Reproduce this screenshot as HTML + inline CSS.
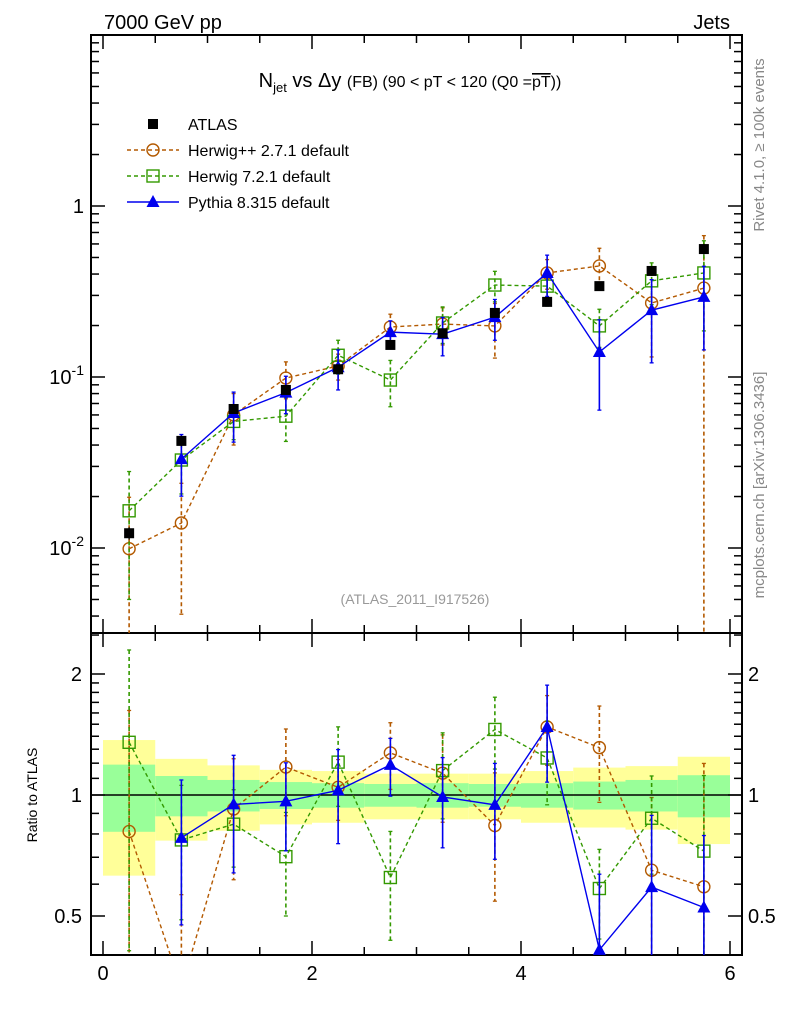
<!DOCTYPE html>
<html><head><meta charset="utf-8">
<style>
html,body{margin:0;padding:0;background:#fff;width:786px;height:1024px;overflow:hidden;}
svg{display:block;font-family:"Liberation Sans",Arial,sans-serif;}
</style></head>
<body>
<svg id="chart" width="786" height="1024" viewBox="0 0 786 1024" xmlns="http://www.w3.org/2000/svg">
<text x="104" y="29" font-size="20">7000 GeV pp</text>
<text x="730" y="29" font-size="20" text-anchor="end">Jets</text>
<text x="410" y="87" font-size="20" text-anchor="middle">N<tspan font-size="13" dy="5">jet</tspan><tspan dy="-5"> vs Δy </tspan><tspan font-size="16">(FB) (90 &lt; pT &lt; 120 (Q0 =</tspan><tspan font-size="16" text-decoration="overline">pT</tspan><tspan font-size="16">))</tspan></text>
<text x="415" y="604" font-size="14" fill="#999" text-anchor="middle">(ATLAS_2011_I917526)</text>
<text transform="translate(764,145) rotate(-90)" font-size="15" fill="#888" text-anchor="middle">Rivet 4.1.0, ≥ 100k events</text>
<text transform="translate(764,485) rotate(-90)" font-size="15" fill="#888" text-anchor="middle">mcplots.cern.ch [arXiv:1306.3436]</text>
<text transform="translate(37,795) rotate(-90)" font-size="14" text-anchor="middle">Ratio to ATLAS</text>
<g id="legend"></g>
<g id="plots"></g>
</svg>
<script>
const xCenters = [0.25,0.75,1.25,1.75,2.25,2.75,3.25,3.75,4.25,4.75,5.25,5.75];
const atlasVals = [0.0122,0.0423,0.065,0.084,0.111,0.154,0.18,0.237,0.275,0.34,0.417,0.56];
const atlasErr = [0.001,0.003,0.004,0.005,0.006,0.008,0.01,0.012,0.015,0.02,0.025,0.04];
const herwigppVals = [0.0099,0.014,0.06,0.0986,0.116,0.196,0.204,0.199,0.406,0.446,0.271,0.331];
const herwigppErr = [0.0099,0.0099,0.02,0.024,0.02,0.037,0.05,0.07,0.08,0.12,0.14,0.34];
const herwig7Vals = [0.0165,0.0327,0.055,0.059,0.134,0.096,0.207,0.345,0.34,0.199,0.365,0.406];
const herwig7Err = [0.0115,0.012,0.012,0.017,0.03,0.029,0.05,0.07,0.08,0.05,0.1,0.22];
const pythiaVals = [null,0.0331,0.0616,0.081,0.114,0.183,0.178,0.224,0.406,0.14,0.246,0.294];
const pythiaErr = [0.013,0.013,0.02,0.02,0.03,0.03,0.045,0.06,0.11,0.076,0.125,0.15];
const bandYellow = [0.37,0.23,0.185,0.155,0.147,0.13,0.13,0.13,0.147,0.17,0.18,0.245];
const bandGreen = [0.19,0.115,0.09,0.077,0.07,0.065,0.07,0.065,0.07,0.08,0.09,0.12];
const xTickLabels = ["0","2","4","6"];
const yMainLabels = [["1",0],["10","-1"],["10","-2"]];
const yRatioLabels = ["2","1","0.5"];

const NS="http://www.w3.org/2000/svg";
const L=91,R=742,T=35,MB=633,RB=955;
const X=v=>103+(730-103)*v/6;
const YM=v=>206-171*Math.log10(v);
const YR=r=>795-121*Math.log2(r);
const plots=document.getElementById('plots');
function mk(tag,attrs,parent){const e=document.createElementNS(NS,tag);for(const k in attrs)e.setAttribute(k,attrs[k]);(parent||plots).appendChild(e);return e;}
function clipRect(id,y0,y1){const d=mk('clipPath',{id:id});mk('rect',{x:L,y:y0,width:R-L,height:y1-y0},d);}
clipRect('cm',T,MB);clipRect('cr',MB,RB);

const gb=mk('g',{'clip-path':'url(#cr)'});


for(let i=0;i<xCenters.length;i++){
  const x0=X(xCenters[i]-0.25),x1=X(xCenters[i]+0.25);
  const y=mk('rect',{x:x0,y:YR(1+bandYellow[i]),width:x1-x0,height:YR(1-bandYellow[i])-YR(1+bandYellow[i]),fill:'#ffff99'},gb);
  
  
  const g=mk('rect',{x:x0,y:YR(1+bandGreen[i]),width:x1-x0,height:YR(1-bandGreen[i])-YR(1+bandGreen[i]),fill:'#99ff99'},gb);
  
  
}
const one=mk('line',{x1:L,x2:R,y1:YR(1),y2:YR(1),stroke:'#000','stroke-width':1.5});



for(const [y0,y1,n] of [[T,MB,'main-frame'],[MB,RB,'ratio-frame']]){
  const f=mk('rect',{x:L,y:y0,width:R-L,height:y1-y0,fill:'none',stroke:'#000','stroke-width':2});
  
  
}
for(let k=0;k<=12;k++){
  const v=k*0.5,x=X(v),len=(k%4==0)?14:8;
  for(const [yb,yt] of [[MB,T],[RB,MB]]){
    mk('line',{x1:x,x2:x,y1:yb,y2:yb-len,stroke:'#000','stroke-width':1.5});
    mk('line',{x1:x,x2:x,y1:yt,y2:yt+len,stroke:'#000','stroke-width':1.5});
  }
}
xTickLabels.forEach((t,i)=>{const e=mk('text',{x:X(i*2),y:980,'font-size':20,'text-anchor':'middle'});e.textContent=t;
 
 });
for(let d=-3;d<=0;d++){for(let m=1;m<10;m++){const v=m*Math.pow(10,d),y=YM(v);if(y<T||y>MB)continue;const len=m==1?14:8;
 mk('line',{x1:L,x2:L+len,y1:y,y2:y,stroke:'#000','stroke-width':1.5});mk('line',{x1:R,x2:R-len,y1:y,y2:y,stroke:'#000','stroke-width':1.5});}}
yMainLabels.forEach((p,i)=>{const y=YM(Math.pow(10,-i));const e=mk('text',{x:84,y:y+7,'font-size':20,'text-anchor':'end'});
 if(i==0)e.textContent='1';else{e.textContent='10';const s=mk('tspan',{'font-size':14,dy:-9},e);s.textContent=p[1];}
 
 });
const rt=[0.4,0.5,0.6,0.7,0.8,0.9,1,1.1,1.2,1.3,1.4,1.5,1.6,1.7,1.8,1.9,2,2.5];
rt.forEach(v=>{const y=YR(v);if(y<MB||y>RB)return;const len=(v==0.5||v==1||v==2)?14:8;
 mk('line',{x1:L,x2:L+len,y1:y,y2:y,stroke:'#000','stroke-width':1.5});mk('line',{x1:R,x2:R-len,y1:y,y2:y,stroke:'#000','stroke-width':1.5});});
[2,1,0.5].forEach((v,i)=>{for(const [x,a] of [[82,'end'],[748,'start']]){const e=mk('text',{x:x,y:YR(v)+7,'font-size':20,'text-anchor':a});e.textContent=yRatioLabels[i];
 
 }});

function marker(g,type,x,y,col){
  if(type=='sq')mk('rect',{x:x-5,y:y-5,width:10,height:10,fill:'#000'},g);
  else if(type=='circ')mk('circle',{cx:x,cy:y,r:6,fill:'none',stroke:col,'stroke-width':1.4},g);
  else if(type=='osq')mk('rect',{x:x-6,y:y-6,width:12,height:12,fill:'none',stroke:col,'stroke-width':1.4},g);
  else if(type=='tri')mk('polygon',{points:`${x},${y-7} ${x-6.5},${y+5} ${x+6.5},${y+5}`,fill:col},g);
}
function series(name,vals,errs,col,dash,type,line,panel){
  const ratio=panel=='ratio';
  const Y=ratio?YR:YM;
  const g=mk('g',{'clip-path':ratio?'url(#cr)':'url(#cm)'});
  
  
  const pts=[];
  for(let i=0;i<xCenters.length;i++){
    if(vals[i]==null)continue;
    let v=vals[i],e=errs[i];
    if(ratio){v=vals[i]/atlasVals[i];e=errs[i]/atlasVals[i];}
    const x=X(xCenters[i]);
    const lo=Math.max(v-e,1e-6);
    mk('line',{x1:x,x2:x,y1:Y(v+e),y2:Y(lo),stroke:col,'stroke-width':line?1.6:1.3,'stroke-dasharray':dash||''},g);
    if(type!='sq'){mk('line',{x1:x-2,x2:x+2,y1:Y(v+e),y2:Y(v+e),stroke:col,'stroke-width':1.3},g);mk('line',{x1:x-2,x2:x+2,y1:Y(lo),y2:Y(lo),stroke:col,'stroke-width':1.3},g);}
    pts.push([x,Y(v)]);
  }
  if(line)mk('polyline',{points:pts.map(p=>p.join(',')).join(' '),fill:'none',stroke:col,'stroke-width':1.4,'stroke-dasharray':dash||''},g);
  pts.forEach(p=>marker(g,type,p[0],p[1],col));
}
series('herwigpp',herwigppVals,herwigppErr,'#b35900','4,3','circ',true,'main');
series('herwig7',herwig7Vals,herwig7Err,'#339900','4,3','osq',true,'main');
series('pythia',pythiaVals,pythiaErr,'#0000ee','','tri',true,'main');
series('atlas',atlasVals,atlasErr,'#000','','sq',false,'main');
series('herwigpp',herwigppVals,herwigppErr,'#b35900','4,3','circ',true,'ratio');
series('herwig7',herwig7Vals,herwig7Err,'#339900','4,3','osq',true,'ratio');
series('pythia',pythiaVals,pythiaErr,'#0000ee','','tri',true,'ratio');

const lg=document.getElementById('legend');
const entries=[['ATLAS','sq','#000',''],['Herwig++ 2.7.1 default','circ','#b35900','4,3'],['Herwig 7.2.1 default','osq','#339900','4,3'],['Pythia 8.315 default','tri','#0000ee','']];
entries.forEach((en,i)=>{const y=124+i*26;const g=mk('g',{},lg);
 
 
 if(i>0)mk('line',{x1:127,x2:179,y1:y,y2:y,stroke:en[2],'stroke-width':1.4,'stroke-dasharray':en[3]},g);
 marker(g,en[1],153,y,en[2]);
 const t=mk('text',{x:188,y:y+6,'font-size':16},g);t.textContent=en[0];});
</script>
</body></html>
